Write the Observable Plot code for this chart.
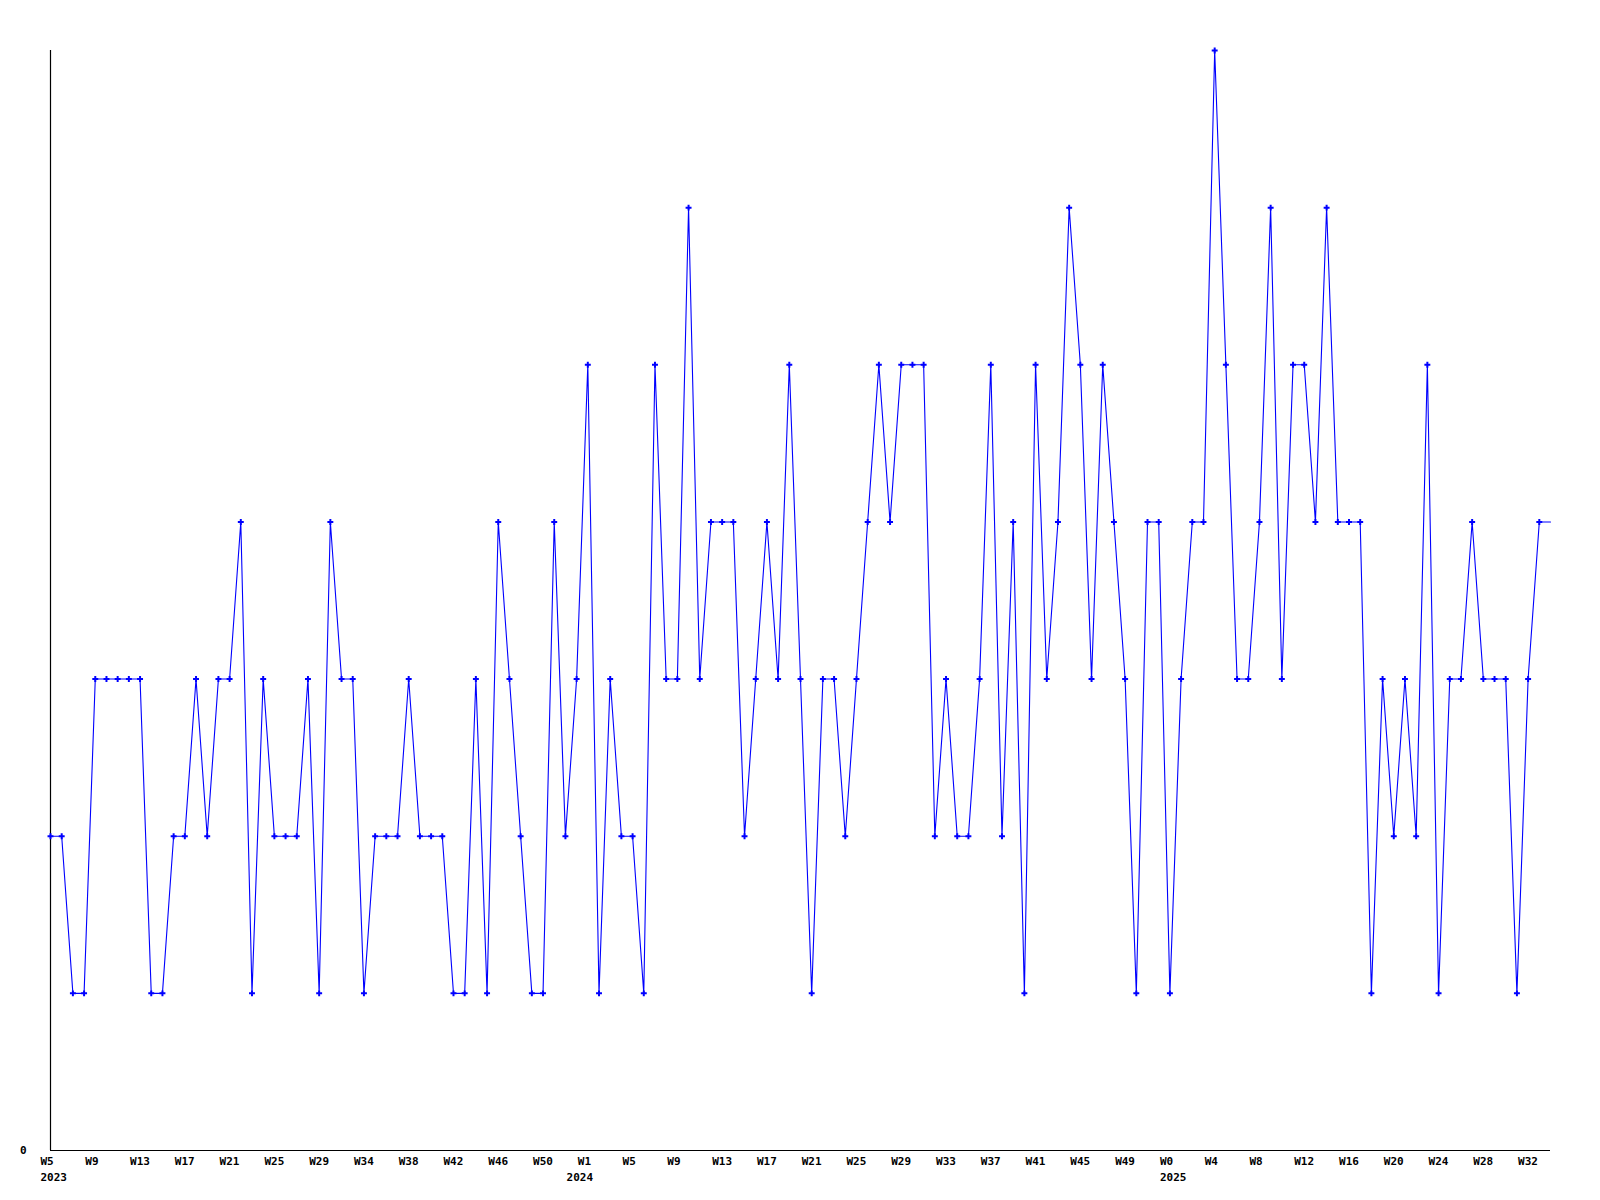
<!DOCTYPE html>
<html><head><meta charset="utf-8">
<script src="https://cdn.jsdelivr.net/npm/d3@7"></script>
<script src="https://cdn.jsdelivr.net/npm/@observablehq/plot@0.6"></script>
<style>body{margin:0;background:#fff}</style>
</head><body><div id="chart"></div>
<script>
// weekly values, starting W5 2023 (one value per week)
const values = [
  2,2,1,1,3,3,3,3,3,1,
  1,2,2,3,2,3,3,4,1,3,
  2,2,2,3,1,4,3,3,1,2,
  2,2,3,2,2,2,1,1,3,1,
  4,3,2,1,1,4,2,3,5,1,
  3,2,2,1,5,3,3,6,3,4,
  4,4,2,3,4,3,5,3,1,3,
  3,2,3,4,5,4,5,5,5,2,
  3,2,2,3,5,2,4,1,5,3,
  4,6,5,3,5,4,3,1,4,4,
  1,3,4,4,7,5,3,3,4,6,
  3,5,5,4,6,4,4,4,1,3,
  2,3,2,5,1,3,3,4,3,3,
  3,1,3,4,4
];
// tick labels, one every 4 weeks
const weekLabels = ["W5","W9","W13","W17","W21","W25","W29","W34","W38","W42","W46","W50",
  "W1","W5","W9","W13","W17","W21","W25","W29","W33","W37","W41","W45","W49",
  "W0","W4","W8","W12","W16","W20","W24","W28","W32"];
// year labels and the week index where each starts
const yearLabels = ["2023", "2024", "2025"];
const yearWeekIndex = [0, 47, 100];

const data = values.map((v, i) => ({i, v}));
const tickStep = 4;
const tickIdx = weekLabels.map((_, k) => k * tickStep);
const years = yearLabels.map((t, k) => ({t, i: yearWeekIndex[k]}));

const font = "'DejaVu Sans Mono', monospace";
const chart = Plot.plot({
  width: 1600,
  height: 1200,
  marginLeft: 50,
  marginRight: 50,
  marginTop: 50,
  marginBottom: 50,
  style: {fontFamily: font, fontSize: "11px", fontWeight: "bold", background: "#fff", color: "#000"},
  x: {type: "linear", domain: [0, values.length - 1], axis: null},
  y: {domain: [0, 7], axis: null},
  marks: [
    Plot.ruleX([0], {stroke: "#000", strokeWidth: 1.2}),
    Plot.ruleY([0], {stroke: "#000", strokeWidth: 1.2}),
    Plot.axisX({ticks: tickIdx, tickFormat: d => weekLabels[tickIdx.indexOf(d)], tickSize: 0, tickPadding: 7,
      textAnchor: "start", dx: -10, label: null, fontSize: 11, fontWeight: "bold", fill: "#000"}),
    Plot.text(years, {x: "i", y: () => 0, text: "t", lineAnchor: "top", textAnchor: "start",
      dx: -10, dy: 23, fontSize: 11, fontWeight: "bold", fill: "#000", clip: false}),
    Plot.axisY({ticks: [0], tickFormat: d => String(d), tickSize: 0, tickPadding: 24, label: null,
      fontSize: 11, fontWeight: "bold", fill: "#000"}),
    Plot.line(data, {x: "i", y: "v", stroke: "#0000ff", strokeWidth: 1.1}),
    Plot.dot(data.slice(0, -1), {x: "i", y: "v", symbol: "cross", r: 2.5, fill: "#0000ff", stroke: "none"})
  ]
});
document.getElementById("chart").appendChild(chart);
</script>
</body></html>
